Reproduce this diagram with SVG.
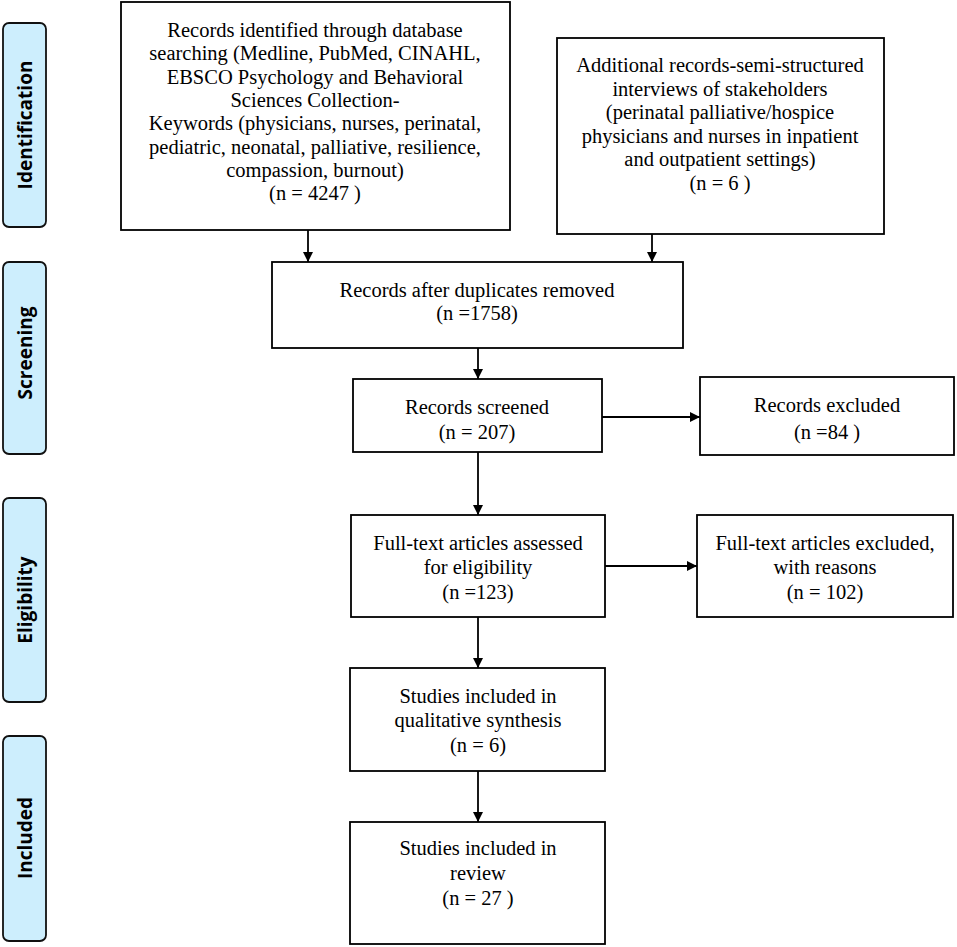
<svg xmlns="http://www.w3.org/2000/svg" width="957" height="947" viewBox="0 0 957 947">
<style>
.box{fill:#fff;stroke:#000;stroke-width:1.8}
.lab{fill:#cdeefd;stroke:#111;stroke-width:1.8}
.t{font-family:"Liberation Serif","Times New Roman",serif;font-size:20.5px;fill:#000;text-anchor:middle}
.s{font-family:"Open Sans","Liberation Sans",sans-serif;font-weight:bold;font-size:19px;fill:#000;text-anchor:middle}
.c{stroke:#000;stroke-width:1.8;fill:none}
</style>
<defs>
<marker id="ah" viewBox="0 0 10 10" refX="10" refY="5" markerWidth="11" markerHeight="10" markerUnits="userSpaceOnUse" orient="auto">
<path d="M0,0 L10,5 L0,10 z" fill="#000"/>
</marker>
</defs>
<rect width="957" height="947" fill="#fff"/>
<g id="label-identification">
<rect class="lab" x="3" y="23" width="43" height="204" rx="6"/>
<text class="s" transform="translate(32,125) rotate(-90)">Identification</text>
</g>
<g id="label-screening">
<rect class="lab" x="3" y="262" width="43" height="192" rx="6"/>
<text class="s" transform="translate(32,353) rotate(-90)">Screening</text>
</g>
<g id="label-eligibility">
<rect class="lab" x="3" y="498" width="43" height="204" rx="6"/>
<text class="s" transform="translate(32,600) rotate(-90)">Eligibility</text>
</g>
<g id="label-included">
<rect class="lab" x="3" y="736" width="43" height="205" rx="6"/>
<text class="s" transform="translate(32,838) rotate(-90)">Included</text>
</g>
<g id="connectors">
<line class="c" x1="308" y1="230" x2="308" y2="262" marker-end="url(#ah)"/>
<line class="c" x1="652" y1="234" x2="652" y2="262" marker-end="url(#ah)"/>
<line class="c" x1="478" y1="348" x2="478" y2="379" marker-end="url(#ah)"/>
<line class="c" x1="602" y1="417" x2="700" y2="417" marker-end="url(#ah)"/>
<line class="c" x1="478" y1="452" x2="478" y2="515" marker-end="url(#ah)"/>
<line class="c" x1="605" y1="566" x2="697" y2="566" marker-end="url(#ah)"/>
<line class="c" x1="478" y1="617" x2="478" y2="668" marker-end="url(#ah)"/>
<line class="c" x1="478" y1="771" x2="478" y2="822" marker-end="url(#ah)"/>
</g>
<g id="node-database">
<rect class="box" x="121" y="2" width="389" height="228"/>
<text class="t" x="315" y="37">Records identified through database</text>
<text class="t" x="315" y="60">searching (Medline, PubMed, CINAHL,</text>
<text class="t" x="315" y="84">EBSCO Psychology and Behavioral</text>
<text class="t" x="315" y="107">Sciences Collection-</text>
<text class="t" x="315" y="130">Keywords (physicians, nurses, perinatal,</text>
<text class="t" x="315" y="154">pediatric, neonatal, palliative, resilience,</text>
<text class="t" x="315" y="177">compassion, burnout)</text>
<text class="t" x="315" y="200">(n = 4247  )</text>
</g>
<g id="node-additional">
<rect class="box" x="557" y="38" width="327" height="196"/>
<text class="t" x="720" y="72">Additional records-semi-structured</text>
<text class="t" x="720" y="96">interviews of stakeholders</text>
<text class="t" x="720" y="119">(perinatal palliative/hospice</text>
<text class="t" x="720" y="143">physicians and nurses in inpatient</text>
<text class="t" x="720" y="166">and outpatient settings)</text>
<text class="t" x="720" y="190">(n = 6 )</text>
</g>
<g id="node-duplicates">
<rect class="box" x="272" y="262" width="411" height="86"/>
<text class="t" x="477" y="297">Records after duplicates removed</text>
<text class="t" x="477" y="320">(n =1758)</text>
</g>
<g id="node-screened">
<rect class="box" x="353" y="379" width="249" height="73"/>
<text class="t" x="477" y="414">Records screened</text>
<text class="t" x="477" y="439">(n = 207)</text>
</g>
<g id="node-excluded">
<rect class="box" x="700" y="377" width="254" height="78"/>
<text class="t" x="827" y="412">Records excluded</text>
<text class="t" x="827" y="439">(n =84 )</text>
</g>
<g id="node-fulltext">
<rect class="box" x="351" y="515" width="254" height="102"/>
<text class="t" x="478" y="550">Full-text articles assessed</text>
<text class="t" x="478" y="574">for eligibility</text>
<text class="t" x="478" y="599">(n =123)</text>
</g>
<g id="node-fulltext-excluded">
<rect class="box" x="697" y="515" width="256" height="102"/>
<text class="t" x="825" y="550">Full-text articles excluded,</text>
<text class="t" x="825" y="574">with reasons</text>
<text class="t" x="825" y="599">(n = 102)</text>
</g>
<g id="node-qualitative">
<rect class="box" x="350" y="668" width="255" height="103"/>
<text class="t" x="478" y="703">Studies included in</text>
<text class="t" x="478" y="727">qualitative synthesis</text>
<text class="t" x="478" y="752">(n = 6)</text>
</g>
<g id="node-review">
<rect class="box" x="350" y="822" width="255" height="122"/>
<text class="t" x="478" y="855">Studies included in</text>
<text class="t" x="478" y="880">review</text>
<text class="t" x="478" y="905">(n = 27 )</text>
</g>
</svg>
